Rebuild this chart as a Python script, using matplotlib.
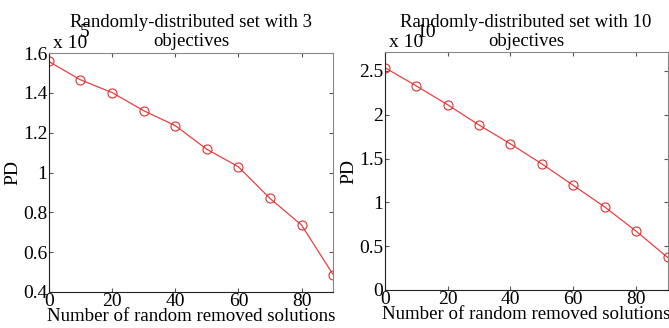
import matplotlib.pyplot as plt

plt.rcParams['font.family'] = ['Liberation Serif', 'DejaVu Serif']

# number of randomly removed solutions
removed = [0, 10, 20, 30, 40, 50, 60, 70, 80, 90]
# PD values, in units of 1e5 (3 objectives) and 1e10 (10 objectives)
pd_3obj = [1.558, 1.466, 1.402, 1.311, 1.236, 1.117, 1.029, 0.870, 0.736, 0.487]
pd_10obj = [2.538, 2.330, 2.114, 1.883, 1.667, 1.439, 1.193, 0.947, 0.670, 0.371]

titles = ['Randomly-distributed set with 3\nobjectives',
          'Randomly-distributed set with 10\nobjectives']
exponents = ['5', '10']
yticks_list = [[0.4, 0.6, 0.8, 1.0, 1.2, 1.4, 1.6], [0, 0.5, 1, 1.5, 2, 2.5]]
yticklabels_list = [['0.4', '0.6', '0.8', '1', '1.2', '1.4', '1.6'],
                    ['0', '0.5', '1', '1.5', '2', '2.5']]
ylims = [(0.4, 1.6), (0, 2.71)]

fig = plt.figure(figsize=(6.69, 3.28), dpi=100)
ax1 = fig.add_axes([0.073, 0.110, 0.425, 0.728])
ax2 = fig.add_axes([0.575, 0.116, 0.423, 0.724])

for ax, y, title, ex, yt, ytl, yl in zip([ax1, ax2], [pd_3obj, pd_10obj], titles,
                                         exponents, yticks_list, yticklabels_list, ylims):
    ax.plot(removed, y, color='#e84040', lw=0.9, marker='o', markersize=6.5,
            markerfacecolor='none', markeredgecolor='#e03030', markeredgewidth=0.8)
    ax.set_xlim(0, 90)
    ax.set_ylim(*yl)
    ax.set_xticks([0, 20, 40, 60, 80])
    ax.set_yticks(yt)
    ax.set_yticklabels(ytl)
    ax.tick_params(direction='in', length=3, labelsize=14, pad=1,
                   top=True, right=True, color='#555555')
    for side in ['top', 'right']:
        ax.spines[side].set_color('#888888')
    for side in ['left', 'bottom']:
        ax.spines[side].set_color('#222222')
    ax.set_title(title, fontsize=13.5, linespacing=1.15, pad=5)
    ax.set_xlabel('Number of random removed solutions', fontsize=13.6, labelpad=-1.5)
    ax.set_ylabel('PD', fontsize=14, labelpad=1)
    ax.text(0.015, 1.005, 'x 10', transform=ax.transAxes, fontsize=14,
            ha='left', va='bottom')
    ax.text(0.11, 1.05, ex, transform=ax.transAxes, fontsize=14,
            ha='left', va='bottom')

fig.savefig('out.png', dpi=100)
